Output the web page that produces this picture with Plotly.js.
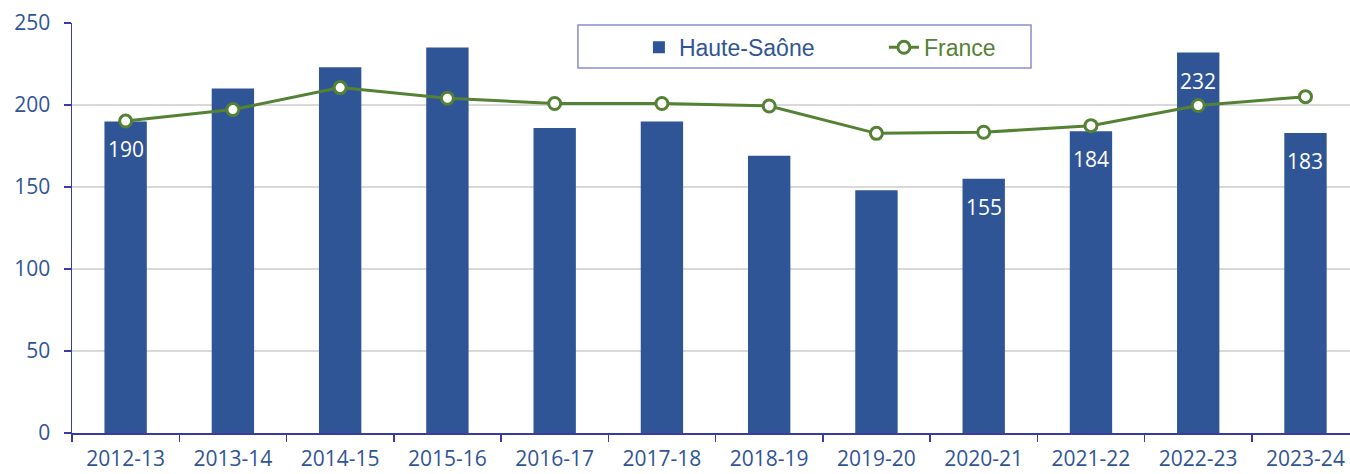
<!DOCTYPE html>
<html>
<head>
<meta charset="utf-8">
<script src="https://cdn.plot.ly/plotly-3.0.1.min.js"></script>
<style>
  html, body { margin: 0; padding: 0; background: #ffffff; }
  #chart { width: 1350px; height: 474px; }
</style>
</head>
<body>
<div id="chart"></div>
<script>
// ---- Data ----
const categories = ['2012-13', '2013-14', '2014-15', '2015-16', '2016-17', '2017-18',
                    '2018-19', '2019-20', '2020-21', '2021-22', '2022-23', '2023-24'];
const hauteSaone = [190, 210, 223, 235, 186, 190, 169, 148, 155, 184, 232, 183];
const france = [190.2, 197.2, 210.6, 204.1, 200.9, 200.9, 199.4, 182.7, 183.4, 187.4, 199.7, 205.1];
const labelledCategories = ['2012-13', '2020-21', '2021-22', '2022-23', '2023-24'];
const seriesNames = ['Haute-Saône', 'France'];

// ---- Styles ----
const barColor = '#2F5597';
const lineColor = '#548235';
const axisColor = '#3A3A9F';
const tickFont = { family: 'Open Sans, sans-serif', size: 21, color: '#2F5597' };

const traces = [
  {
    type: 'bar',
    x: categories,
    y: hauteSaone,
    name: '<span style="color:' + barColor + '">' + seriesNames[0] + '</span>',
    marker: { color: barColor },
    hoverinfo: 'x+y'
  },
  {
    type: 'scatter',
    mode: 'lines+markers',
    x: categories,
    y: france,
    name: '<span style="color:' + lineColor + '">' + seriesNames[1] + '</span>',
    line: { color: lineColor, width: 3 },
    marker: { symbol: 'circle', size: 12, color: '#ffffff', line: { color: lineColor, width: 3 } },
    hoverinfo: 'x+y'
  }
];

const annotations = categories
  .map((c, i) => ({ c, v: hauteSaone[i] }))
  .filter(d => labelledCategories.includes(d.c))
  .map(d => ({
    x: d.c, y: d.v, xref: 'x', yref: 'y',
    text: String(d.v), showarrow: false,
    yanchor: 'middle', yshift: -28,
    font: { family: 'Open Sans, sans-serif', size: 21, color: '#ffffff' }
  }));

const layout = {
  width: 1350,
  height: 474,
  margin: { l: 72, r: 0, t: 23, b: 41 },
  paper_bgcolor: '#ffffff',
  plot_bgcolor: '#ffffff',
  bargap: 0.605,
  showlegend: true,
  legend: {
    orientation: 'h',
    x: 0.4436, xanchor: 'left',
    y: 0.993, yanchor: 'top',
    font: { family: 'Liberation Sans, Arial, sans-serif', size: 23 },
    bgcolor: 'rgba(0,0,0,0)',
    borderwidth: 0,
    entrywidth: 200,
    traceorder: 'normal'
  },
  shapes: [
    {
      type: 'rect', xref: 'paper', yref: 'paper',
      x0: 0.3959, x1: 0.7504, y0: 0.8902, y1: 0.9951,
      line: { color: '#8C8CD0', width: 1.5 },
      fillcolor: 'rgba(0,0,0,0)',
      layer: 'between'
    }
  ],
  xaxis: {
    type: 'category',
    range: [-0.5, 11.415],
    showline: true, linecolor: axisColor, linewidth: 1.5,
    ticks: 'outside', tickson: 'boundaries', ticklen: 7, tickcolor: axisColor, tickwidth: 1.5,
    showgrid: false, zeroline: false,
    tickfont: tickFont,
    ticklabelstandoff: 6
  },
  yaxis: {
    range: [0, 250],
    dtick: 50, tick0: 0,
    showline: true, linecolor: axisColor, linewidth: 1.5,
    ticks: 'outside', ticklen: 7, tickcolor: axisColor, tickwidth: 1.5,
    showgrid: true, gridcolor: '#D9D9D9', gridwidth: 1.5,
    zeroline: false,
    tickfont: tickFont,
    ticklabelstandoff: 9
  },
  annotations: annotations
};

Plotly.newPlot('chart', traces, layout, { displayModeBar: false, staticPlot: true });
</script>
</body>
</html>
